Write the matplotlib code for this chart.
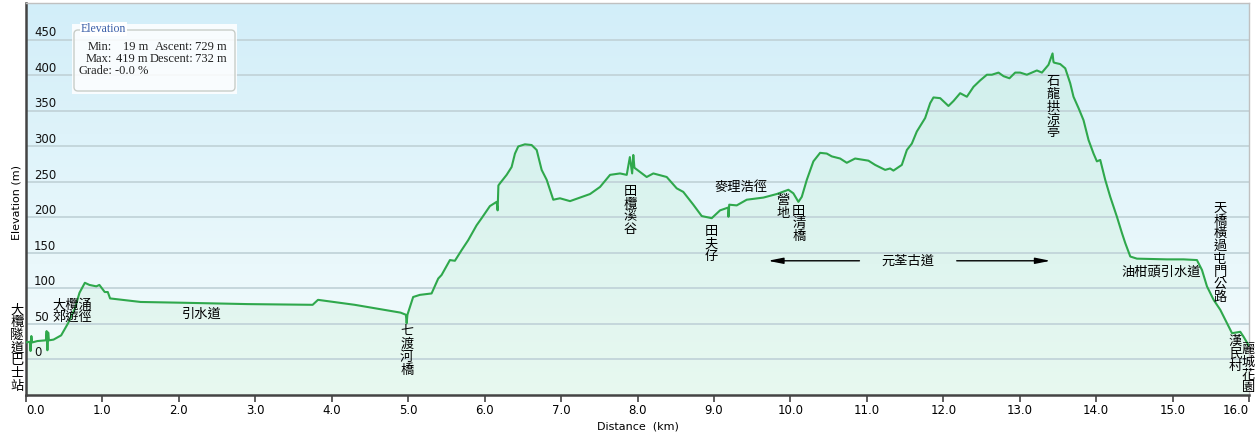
import numpy as np
import matplotlib.pyplot as plt
from matplotlib.patches import FancyBboxPatch

# elevation profile (km, m)
dist_km = [0.00, 0.05, 0.06, 0.07, 0.08, 0.15, 0.26, 0.27, 0.28, 0.29, 0.30, 0.36,
           0.46, 0.55, 0.64, 0.70, 0.77, 0.83, 0.92, 0.96, 1.03, 1.07, 1.10,
           1.50, 2.01, 2.90, 3.75, 3.82, 4.30, 4.90, 4.97, 4.98, 4.99, 5.065,
           5.153, 5.306, 5.393, 5.437, 5.546, 5.611, 5.699, 5.785, 5.895, 5.961,
           6.069, 6.157, 6.17, 6.18, 6.200, 6.288, 6.353, 6.397, 6.440, 6.527,
           6.615, 6.681, 6.746, 6.812, 6.898, 6.986, 7.117, 7.248, 7.379, 7.510,
           7.641, 7.771, 7.859, 7.90, 7.93, 7.945, 7.96, 8.033, 8.120, 8.207,
           8.382, 8.513, 8.599, 8.730, 8.840, 8.971, 9.080, 9.188, 9.19, 9.20,
           9.298, 9.429, 9.647, 9.822, 9.974, 10.039, 10.105, 10.149, 10.215,
           10.301, 10.389, 10.476, 10.542, 10.651, 10.738, 10.847, 11.021, 11.109,
           11.240, 11.305, 11.348, 11.458, 11.524, 11.589, 11.654, 11.763, 11.829,
           11.872, 11.960, 12.068, 12.134, 12.221, 12.309, 12.396, 12.483, 12.571,
           12.636, 12.723, 12.788, 12.866, 12.941, 13.006, 13.094, 13.225, 13.291,
           13.377, 13.43, 13.442, 13.45, 13.530, 13.573, 13.596, 13.661, 13.704,
           13.770, 13.835, 13.901, 13.966, 14.010, 14.054, 14.119, 14.185, 14.272,
           14.338, 14.381, 14.447, 14.534, 14.927, 15.144, 15.319, 15.385, 15.450,
           15.537, 15.624, 15.712, 15.778, 15.886, 15.929, 15.995]
elev_m = [24, 25, 12, 33, 24, 26, 27, 40, 13, 38, 27, 28,
          34, 51, 72, 94, 108, 105, 103, 105, 95, 95, 86,
          81, 80, 78, 77, 84, 77, 66, 63, 51, 63, 88,
          91, 93, 114, 119, 140, 139, 154, 168, 189, 199,
          216, 222, 210, 245, 248, 260, 271, 290, 300, 303,
          302, 295, 267, 253, 225, 227, 223, 228, 233, 243,
          260, 262, 260, 285, 262, 288, 270, 264, 257, 262,
          257, 241, 236, 218, 202, 199, 210, 214, 201, 218,
          217, 225, 228, 233, 239, 234, 222, 229, 253,
          279, 291, 290, 286, 283, 277, 283, 280, 274,
          267, 269, 266, 274, 295, 304, 321, 340, 361,
          369, 368, 357, 364, 375, 370, 384, 393, 401,
          401, 404, 399, 396, 404, 404, 401, 407, 404,
          415, 431, 419, 418, 416, 412, 410, 389, 370,
          354, 337, 309, 290, 279, 281, 253, 229, 201,
          178, 164, 145, 142, 141, 141, 140, 126, 103,
          84, 70, 51, 37, 39, 32, 20]

x_ticks = [0.0, 1.0, 2.0, 3.0, 4.0, 5.0, 6.0, 7.0, 8.0, 9.0, 10.0,
           11.0, 12.0, 13.0, 14.0, 15.0, 16.0]
y_ticks = [0, 50, 100, 150, 200, 250, 300, 350, 400, 450]

# waypoint labels: text, distance, elevation, vertical?
waypoints = [
    ("大欖隧道巴士站", -0.12, 16, True),
    ("大欖涌\n郊遊徑", 0.60, 68, False),
    ("引水道", 2.30, 64, False),
    ("七渡河橋", 4.98, 12, True),
    ("田欖溪谷", 7.90, 210, True),
    ("田夫仔", 8.96, 163, True),
    ("麥理浩徑", 9.35, 242, False),
    ("營地", 9.90, 215, True),
    ("田清橋", 10.11, 191, True),
    ("石龍拱涼亭", 13.44, 355, True),
    ("油柑頭引水道", 14.85, 123, False),
    ("天橋橫過屯門公路", 15.62, 150, True),
    ("漢民村", 15.82, 8, True),
    ("麗城花園", 15.99, -13, True),
]
trail_name = "元荃古道"
trail_start, trail_end, trail_mid, trail_elev = 9.67, 13.44, 11.54, 139

cjk = ["Noto Sans CJK TC", "DejaVu Sans"]

fig = plt.figure(figsize=(12.55, 4.41), dpi=100)
W, H = 1255, 441
ax = fig.add_axes([26 / W, 1 - 395 / H, (1249 - 26) / W, (395 - 3) / H])
ax.set_xlim(0, 16.0)
ax.set_ylim(-50, 502)

# background gradient
grad = np.linspace(0, 1, 256).reshape(-1, 1)
bg = np.array([0xd2, 0xee, 0xf9]) / 255 * (1 - grad) + np.array([0xf6, 0xfd, 0xfc]) / 255 * grad
ax.imshow(bg[:, None, :].repeat(2, axis=1), extent=[0, 16.0, -50, 502],
          aspect="auto", zorder=0, origin="upper")

ax.fill_between(dist_km, elev_m, -50, color="#c4eed0", alpha=0.28, zorder=1, lw=0)

for yt in y_ticks:
    ax.axhline(yt, color="#c2d4d9", lw=1.3, zorder=2)
    ax.annotate(str(yt), xy=(0, yt), xycoords=("axes fraction", "data"),
                xytext=(5.8, 5), textcoords="offset points",
                ha="left", va="center", fontsize=8.5, color="#111", zorder=5)

ax.plot(dist_km, elev_m, color="#2fa84c", lw=1.5, zorder=3)

ax.set_xticks(x_ticks)
ax.set_xticklabels([f"{t:.1f}" for t in x_ticks], fontsize=8.5)
xt = ax.get_xticklabels()
xt[0].set_ha("left")
xt[-1].set_ha("right")
ax.set_yticks([])
ax.tick_params(axis="x", length=5, width=1.2, color="#444", pad=1.5)
for s in ["left", "bottom"]:
    ax.spines[s].set_color("#444")
    ax.spines[s].set_linewidth(1.8)
for s in ["top", "right"]:
    ax.spines[s].set_color("#c0c0c0")
    ax.spines[s].set_linewidth(1.0)

ax.set_xlabel("Distance  (km)", fontsize=8, labelpad=3)
fig.text(17 / W, 1 - 202 / H, "Elevation (m)", rotation=90, ha="center",
         va="center", fontsize=8)

for label, x, y, vertical in waypoints:
    text = "\n".join(label) if vertical else label
    ax.text(x, y, text, ha="center", va="center", fontsize=9.5, family=cjk,
            linespacing=0.97 if vertical else 0.95, zorder=6, clip_on=False)

ax.text(trail_mid, trail_elev, trail_name, ha="center", va="center",
        fontsize=9.5, family=cjk, zorder=6)
arrow = dict(arrowstyle="-|>,head_length=0.9,head_width=0.18", color="black", lw=1.0)
ax.annotate("", xy=(trail_start, trail_elev), xytext=(trail_mid - 0.6, trail_elev),
            arrowprops=arrow, zorder=6)
ax.annotate("", xy=(trail_end, trail_elev), xytext=(trail_mid + 0.6, trail_elev),
            arrowprops=arrow, zorder=6)

# summary box
lg = fig.add_axes([72 / W, 1 - 94 / H, 165 / W, 70 / H])
lg.set_xlim(0, 165)
lg.set_ylim(70, 0)
lg.axis("off")
lg.add_patch(plt.Rectangle((0, 0), 165, 70, color="white", alpha=0.85, lw=0))
lg.add_patch(FancyBboxPatch((2, 6), 161, 61, boxstyle="round,pad=0,rounding_size=4",
                            fc="none", ec="#c8cdc8", lw=1.0))
serif = "Liberation Serif"
lg.text(9, 5, "Elevation", fontsize=8.5, family=serif, color="#3a5ea8",
        ha="left", va="center", bbox=dict(fc="white", ec="none", pad=0.5))
rows = [("Min:", "19 m", "Ascent:", "729 m"),
        ("Max:", "419 m", "Descent:", "732 m"),
        ("Grade:", "-0.0 %", "", "")]
for i, row in enumerate(rows):
    for cx, cell in zip([40, 76, 121, 155], row):
        lg.text(cx, 23 + 12 * i, cell, fontsize=9, family=serif, color="#222",
                ha="right", va="center")

fig.savefig("out.png", dpi=100, facecolor="white")
